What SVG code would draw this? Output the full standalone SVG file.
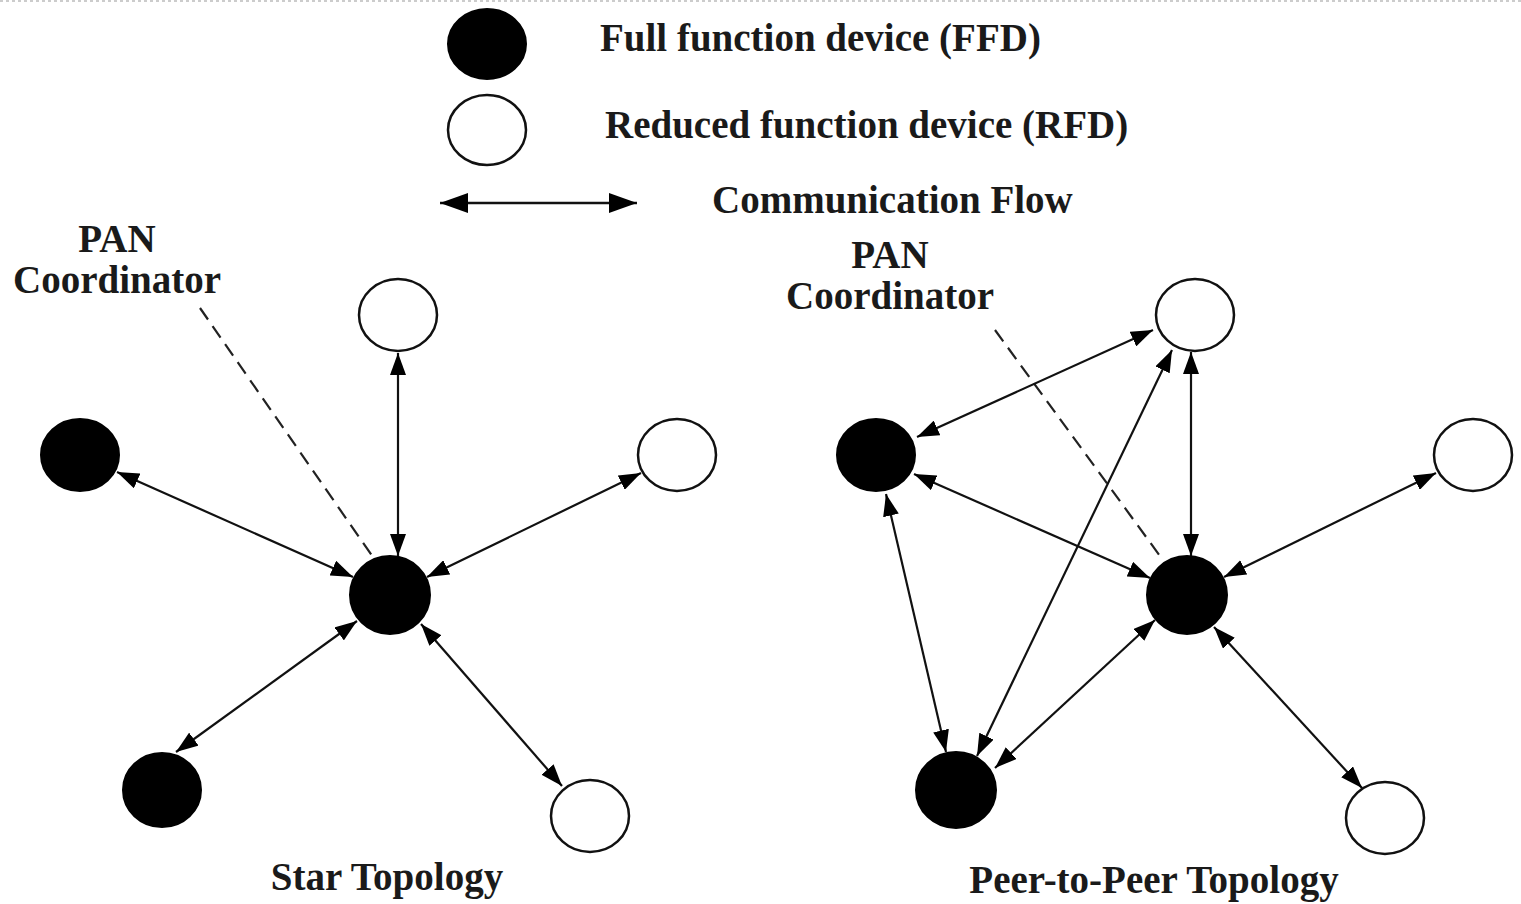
<svg xmlns="http://www.w3.org/2000/svg" width="1521" height="904" viewBox="0 0 1521 904">
  <style>
    .lbl { font-family: "Liberation Serif", "Times New Roman", serif; font-weight: bold; font-size: 39px; fill: #1a1a1a; }
    .mid { text-anchor: middle; }
    .ffd { fill: #000; stroke: #000; stroke-width: 2; }
    .rfd { fill: #fff; stroke: #111; stroke-width: 2.5; }
    .flow { stroke: #111; stroke-width: 2.2; fill: none; marker-start: url(#head); marker-end: url(#head); }
    .key { stroke: #111; stroke-width: 2.5; fill: none; marker-start: url(#bighead); marker-end: url(#bighead); }
    .lead { stroke: #222; stroke-width: 2.2; stroke-dasharray: 14 8; fill: none; }
  </style>
  <defs>
    <marker id="head" viewBox="0 0 22 16" refX="22" refY="8" markerWidth="22" markerHeight="16" markerUnits="userSpaceOnUse" orient="auto-start-reverse">
      <path d="M0,0 L22,8 L0,16 z" fill="#000"/>
    </marker>
    <marker id="bighead" viewBox="0 0 28 20" refX="28" refY="10" markerWidth="28" markerHeight="20" markerUnits="userSpaceOnUse" orient="auto-start-reverse">
      <path d="M0,0 L28,10 L0,20 z" fill="#000"/>
    </marker>
  </defs>
  <rect width="1521" height="904" fill="#fff"/>
  <line x1="0" y1="1" x2="1521" y2="1" stroke="#ccc" stroke-width="2" stroke-dasharray="3 3"/>

  <!-- legend -->
  <g id="legend">
    <ellipse class="ffd" cx="487" cy="44" rx="39" ry="35"/>
    <ellipse class="rfd" cx="487" cy="130" rx="39" ry="35"/>
    <line class="key" x1="440" y1="203" x2="637" y2="203"/>
    <text class="lbl" x="600" y="51">Full function device (FFD)</text>
    <text class="lbl" x="605" y="138">Reduced function device (RFD)</text>
    <text class="lbl" x="712" y="213">Communication Flow</text>
  </g>

  <!-- star topology -->
  <g id="star-labels">
    <text class="lbl mid" x="117" y="252">PAN</text>
    <text class="lbl mid" x="117" y="293">Coordinator</text>
    <text class="lbl mid" x="387" y="890">Star Topology</text>
  </g>
  <g id="star-connectors">
    <line class="lead" x1="200" y1="308" x2="375" y2="560"/>
    <line class="flow" x1="398" y1="353" x2="398" y2="556"/>
    <line class="flow" x1="117" y1="472" x2="353" y2="577"/>
    <line class="flow" x1="641" y1="473" x2="427" y2="577"/>
    <line class="flow" x1="357" y1="621" x2="176" y2="752"/>
    <line class="flow" x1="421" y1="624" x2="562" y2="786"/>
  </g>
  <g id="star-pan"><ellipse class="ffd" cx="390" cy="595" rx="40" ry="39"/></g>
  <g id="star-top"><ellipse class="rfd" cx="398" cy="315" rx="39" ry="36"/></g>
  <g id="star-left"><ellipse class="ffd" cx="80" cy="455" rx="39" ry="36"/></g>
  <g id="star-right"><ellipse class="rfd" cx="677" cy="455" rx="39" ry="36"/></g>
  <g id="star-bottom-left"><ellipse class="ffd" cx="162" cy="790" rx="39" ry="37"/></g>
  <g id="star-bottom-right"><ellipse class="rfd" cx="590" cy="816" rx="39" ry="36"/></g>

  <!-- peer-to-peer topology -->
  <g id="p2p-labels">
    <text class="lbl mid" x="890" y="268">PAN</text>
    <text class="lbl mid" x="890" y="309">Coordinator</text>
    <text class="lbl mid" x="1154" y="893">Peer-to-Peer Topology</text>
  </g>
  <g id="p2p-connectors">
    <line class="lead" x1="995" y1="330" x2="1160" y2="556"/>
    <line class="flow" x1="1153" y1="330" x2="917" y2="437"/>
    <line class="flow" x1="1172" y1="350" x2="977" y2="756"/>
    <line class="flow" x1="1191" y1="352" x2="1191" y2="556"/>
    <line class="flow" x1="914" y1="474" x2="1150" y2="578"/>
    <line class="flow" x1="886" y1="494" x2="946" y2="752"/>
    <line class="flow" x1="995" y1="768" x2="1155" y2="620"/>
    <line class="flow" x1="1224" y1="577" x2="1436" y2="473"/>
    <line class="flow" x1="1214" y1="627" x2="1362" y2="788"/>
  </g>
  <g id="p2p-pan"><ellipse class="ffd" cx="1187" cy="595" rx="40" ry="39"/></g>
  <g id="p2p-top"><ellipse class="rfd" cx="1195" cy="315" rx="39" ry="36"/></g>
  <g id="p2p-left"><ellipse class="ffd" cx="876" cy="455" rx="39" ry="36"/></g>
  <g id="p2p-right"><ellipse class="rfd" cx="1473" cy="455" rx="39" ry="36"/></g>
  <g id="p2p-bottom"><ellipse class="ffd" cx="956" cy="790" rx="40" ry="38"/></g>
  <g id="p2p-bottom-right"><ellipse class="rfd" cx="1385" cy="818" rx="39" ry="36"/></g>
</svg>
